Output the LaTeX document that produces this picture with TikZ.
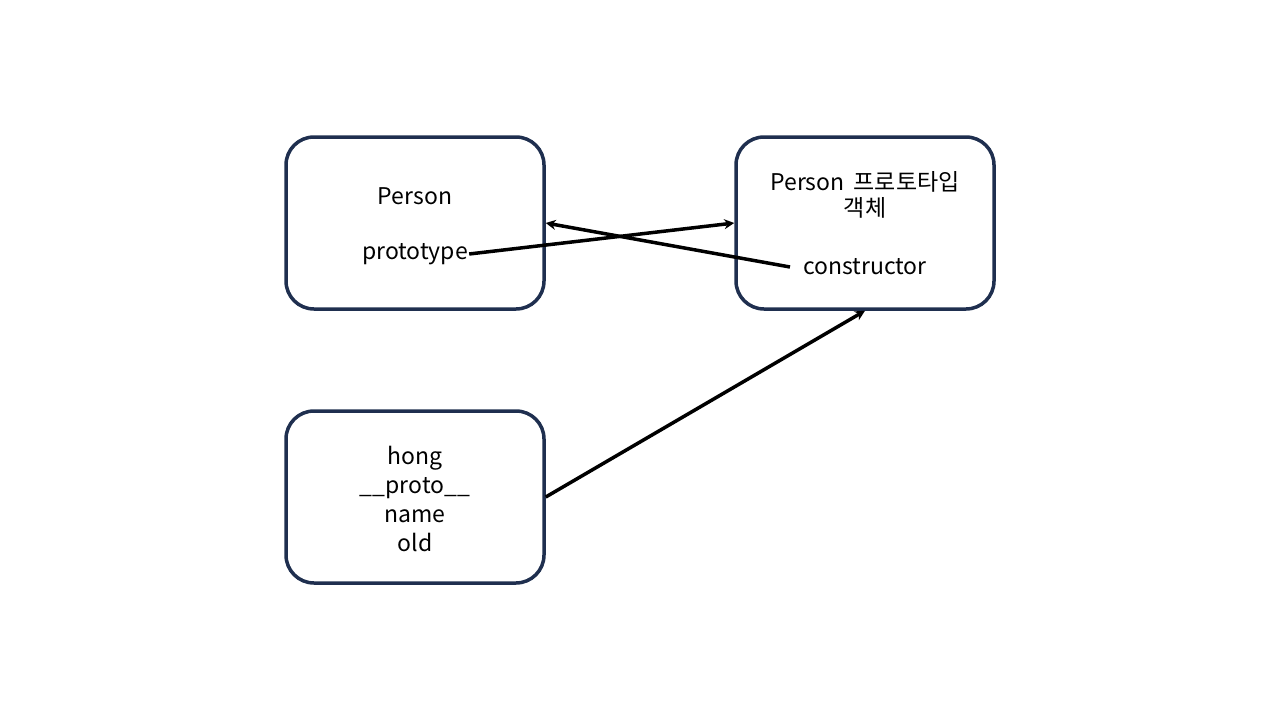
\documentclass[tikz,border=0pt]{standalone}
\usepackage{fontspec}
\setmainfont{Noto Sans CJK KR}
\usetikzlibrary{arrows.meta}
\definecolor{navy}{HTML}{1F2F4F}
\tikzset{
  box/.style={draw=navy, line width=3.5pt, rounded corners=28pt, minimum width=258pt, minimum height=172pt, inner sep=0pt},
  lbl/.style={inner sep=1pt, font=\fontsize{23}{29}\selectfont, align=center},
  conn/.style={line width=3.5pt, -{Stealth[length=10pt,width=10pt]}}
}
\begin{document}
\begin{tikzpicture}[x=1pt,y=1pt]
\useasboundingbox (0,0) rectangle (1280,-720);
\node[box] (person) at (415,-223) {};
\node[box] (proto) at (865,-223) {};
\node[box] (hong) at (415,-497) {};
\node[lbl] (tperson) at (415,-196) {Person};
\node[lbl] (tprototype) at (415,-254) {prototype};
\node[lbl] (tproto) at (865,-195) {Person\hspace{4pt} 프로토타입\\[-3pt]객체};
\node[lbl] (tctor) at (865,-267) {constructor};
\node[lbl] (thong) at (415,-499) {hong\\\_\_proto\_\_\\name\\old};
\draw[conn] (tprototype.east) -- (proto.west);
\draw[conn] ([xshift=-12pt]tctor.west) -- (person.east);
\draw[conn] (hong.east) -- (proto.south);
\end{tikzpicture}
\end{document}
